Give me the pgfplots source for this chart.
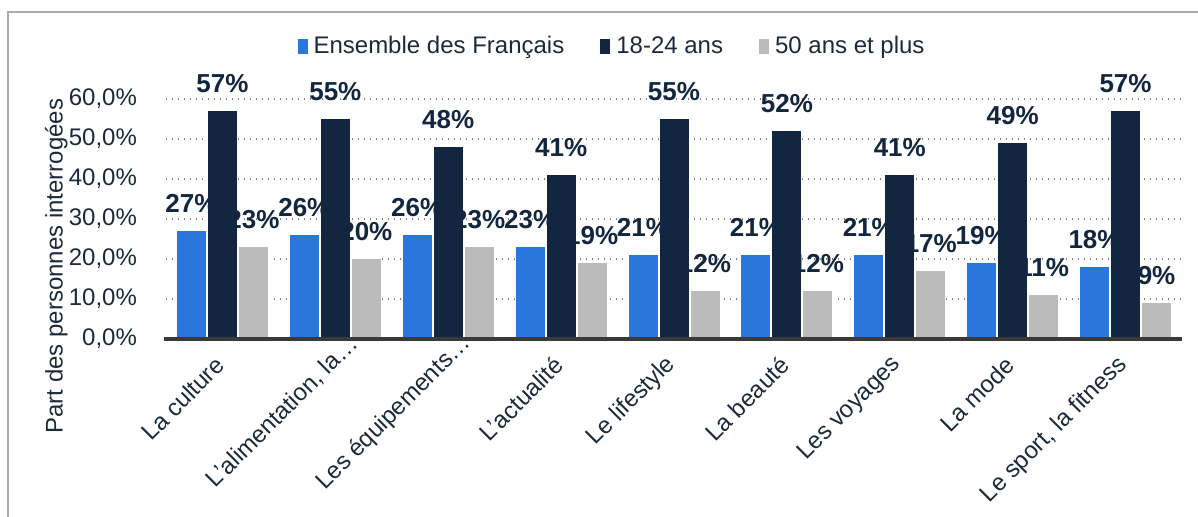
\documentclass[border=0pt]{standalone}
\usepackage{fontspec}
\setmainfont{Liberation Sans}
\usepackage{pgfplots}
\pgfplotsset{compat=1.18}
\definecolor{cblue}{HTML}{2976DC}
\definecolor{cnavy}{HTML}{12263F}
\definecolor{cgrey}{HTML}{BBBBBB}
\definecolor{ctext}{HTML}{1B2A3A}
\definecolor{cframe}{HTML}{AAAAAA}
\definecolor{caxis}{HTML}{3A3A3A}
\definecolor{cgrid}{HTML}{7F7F7F}
\begin{document}
\begin{tikzpicture}
\path[use as bounding box] (0pt,0pt) rectangle (599pt,258.5pt);
\draw[cframe, line width=1pt] (3.8pt,-2pt) -- (3.8pt,252.6pt) -- (601pt,252.6pt);
\begin{axis}[
  at={(83pt,89pt)}, anchor=south west,
  scale only axis, width=508pt, height=120pt,
  ybar=0.5pt, bar width=15pt,
  xmin=-0.5, xmax=8.5, ymin=0, ymax=60,
  xtick={0,1,2,3,4,5,6,7,8},
  xticklabels={La culture, {L'alimentation, la…\hspace*{-15pt}}, Les équipements…\hspace*{-15pt}, L'actualité, Le lifestyle, La beauté, Les voyages, La mode, {Le sport, la fitness}},
  ytick={0,10,20,30,40,50,60},
  yticklabels={{0,0\%},{10,0\%},{20,0\%},{30,0\%},{40,0\%},{50,0\%},{60,0\%}},
  ymajorgrids,
  grid style={cgrid, line width=0.7pt, dash pattern=on 0.7pt off 2.3pt},
  axis x line*=bottom, axis y line*=left,
  y axis line style={draw=none},
  x axis line style={draw=none},
  major tick length=0pt,
  tick label style={font=\fontsize{12}{14}\selectfont, text=ctext},
  xticklabel style={font=\fontsize{12}{14}\selectfont, rotate=45, anchor=east, inner sep=1pt, xshift=-7.5pt, yshift=-7pt},
  yticklabel style={anchor=east, xshift=-11pt},
  ylabel={Part des personnes interrogées},
  ylabel style={font=\fontsize{12}{14}\selectfont, text=ctext, at={(axis description cs:-0.108,0.304)}, anchor=center},
  /pgf/number format/assume math mode=true,
  nodes near coords={\pgfmathprintnumber{\pgfplotspointmeta}\%},
  every node near coord/.append style={font=\bfseries\fontsize{13}{15}\selectfont, text=cnavy, anchor=center, yshift=13.5pt},
  clip=false,
  legend columns=3,
  legend style={at={(0.44,1.22)}, anchor=center, draw=none, fill=none, font=\fontsize{12}{14}\selectfont, text=ctext,
    /tikz/every even column/.append style={column sep=16pt},
    /tikz/every odd column/.append style={column sep=1pt}},
]
\addplot[fill=cblue, draw=white, line width=0.5pt,
  legend image code/.code={\fill[cblue] (0pt,-3.5pt) rectangle (4.5pt,3.5pt);}]
  coordinates {(0,27) (1,26) (2,26) (3,23) (4,21) (5,21) (6,21) (7,19) (8,18)};
\addlegendentry{Ensemble des Français}
\addplot[fill=cnavy, draw=white, line width=0.5pt,
  legend image code/.code={\fill[cnavy] (0pt,-3.5pt) rectangle (4.5pt,3.5pt);}]
  coordinates {(0,57) (1,55) (2,48) (3,41) (4,55) (5,52) (6,41) (7,49) (8,57)};
\addlegendentry{18-24 ans}
\addplot[fill=cgrey, draw=white, line width=0.5pt,
  legend image code/.code={\fill[cgrey] (0pt,-3.5pt) rectangle (4.5pt,3.5pt);}]
  coordinates {(0,23) (1,20) (2,23) (3,19) (4,12) (5,12) (6,17) (7,11) (8,9)};
\addlegendentry{50 ans et plus}
\draw[caxis, line width=2pt] (axis cs:-0.52,0) -- (axis cs:8.5,0);
\end{axis}
\end{tikzpicture}
\end{document}
